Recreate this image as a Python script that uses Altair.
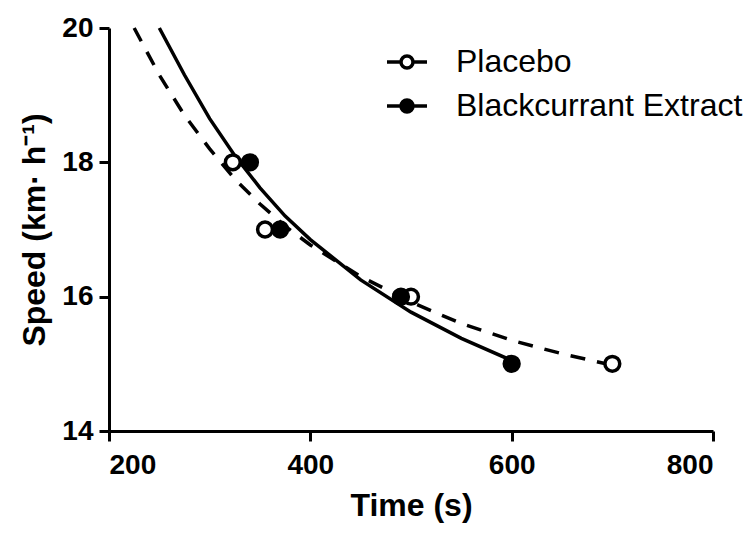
import altair as alt
import pandas as pd

series_names = ["Placebo", "Blackcurrant Extract"]

# Observed points
placebo_time = [323, 355, 500, 700]
placebo_speed = [18, 17, 16, 15]
bc_time = [340, 370, 490, 600]
bc_speed = [18, 17, 16, 15]

# Fitted curves
placebo_curve_time = [225, 250, 275, 300, 325, 350, 375, 400, 450, 500, 550, 600, 650, 700]
placebo_curve_speed = [20.0, 19.3, 18.7, 18.2, 17.75, 17.38, 17.05, 16.77, 16.3, 15.92, 15.6, 15.35, 15.15, 14.98]
bc_curve_time = [250, 275, 300, 325, 350, 375, 400, 450, 500, 550, 600]
bc_curve_speed = [20.0, 19.3, 18.65, 18.1, 17.62, 17.2, 16.85, 16.25, 15.77, 15.38, 15.05]

x_ticks = [200, 400, 600, 800]
y_ticks = [14, 16, 18, 20]

points = pd.DataFrame({
    "series": [series_names[0]] * len(placebo_time) + [series_names[1]] * len(bc_time),
    "time": placebo_time + bc_time,
    "speed": placebo_speed + bc_speed,
})
placebo_curve = pd.DataFrame({"time": placebo_curve_time, "speed": placebo_curve_speed})
bc_curve = pd.DataFrame({"time": bc_curve_time, "speed": bc_curve_speed})

x_enc = alt.X("time:Q", scale=alt.Scale(domain=[200, 800], nice=False),
              axis=alt.Axis(values=x_ticks, title="Time (s)", titlePadding=11, labelPadding=10))
y_enc = alt.Y("speed:Q", scale=alt.Scale(domain=[14, 20], nice=False, zero=False),
              axis=alt.Axis(values=y_ticks, title="Speed (km· h⁻¹)", titlePadding=10, labelPadding=6))

legend_path = ("M-1,0H-0.3M0.3,0H1"
               "M0.3,0A0.3,0.3,0,1,1,-0.3,0A0.3,0.3,0,1,1,0.3,0Z")

placebo_line = alt.Chart(placebo_curve).mark_line(
    color="black", strokeWidth=3.5, strokeCap="butt", strokeDash=[15, 12]
).encode(x=x_enc, y=y_enc)

bc_line = alt.Chart(bc_curve).mark_line(
    color="black", strokeWidth=3.5, strokeCap="butt"
).encode(x=x_enc, y=y_enc)

pts = alt.Chart(points).mark_point(filled=True, size=220, stroke="black", strokeWidth=3.5, opacity=1).encode(
    x=x_enc,
    y=y_enc,
    fill=alt.Fill("series:N",
                  scale=alt.Scale(domain=series_names, range=["white", "black"]),
                  legend=alt.Legend(title=None, orient="none", legendX=276, legendY=12,
                                    symbolType=legend_path, symbolSize=1600,
                                    symbolStrokeColor="black", symbolStrokeWidth=3.5,
                                    symbolOpacity=1,
                                    labelFont="Liberation Sans", labelFontSize=32,
                                    labelColor="black", labelOffset=27, rowPadding=6,
                                    labelLimit=0, padding=0)),
)

chart = alt.layer(placebo_line, bc_line, pts).properties(
    width=604, height=403,
    autosize=alt.AutoSizeParams(type="none"),
    padding={"left": 101, "top": 20, "right": 30, "bottom": 96},
).configure_view(stroke=None).configure_axis(
    grid=False,
    domainColor="black", domainWidth=3,
    tickColor="black", tickWidth=3, tickSize=10,
    labelFont="Liberation Sans", labelFontSize=28, labelFontWeight="bold", labelColor="black",
    titleFont="Liberation Sans", titleFontSize=32, titleFontWeight="bold", titleColor="black",
)

chart.save("out.html", embed_options={"renderer": "svg", "actions": False})
